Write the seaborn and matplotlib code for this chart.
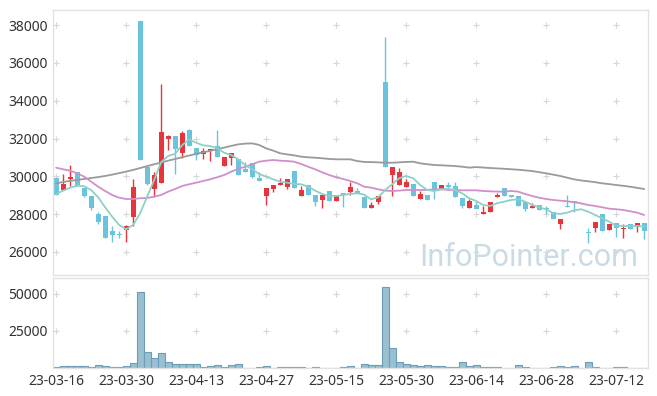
import numpy as np
import pandas as pd
import matplotlib
matplotlib.use('Agg')
import matplotlib.pyplot as plt
import seaborn as sns

# daily OHLC (KRW)
open_p = [29900, 29280, 29860, 30210, 29400, 28950, 27990, 27890, 27090, 26930,
          27160, 27850, 38200, 30510, 29340, 29660, 31960, 32130, 31250, 32450,
          31500, 31160, 31320, 31590, 30560, 30990, 30900, 30370, 30690, 29930,
          28980, 29350, 29560, 29450, 30280, 28980, 29540, 29010, 28770, 29225,
          28700, 29120, 29190, 29225, 28910, 28340, 28640, 34990, 30090, 29560,
          29450, 29580, 28780, 29010, 29700, 29350, 29526, 29490, 28855, 28310,
          28485, 28010, 28100, 28890, 29368, 29014, 28945, 28643, 28310, 28485,
          28310, 28099, 27464, 28420, 28696, 28600, 27000, 27285, 27993, 27147,
          27517, 27200, 27464, 27306, 27517]
high_p = [29950, 30100, 30580, 30250, 29400, 28950, 28100, 27890, 27360, 27110,
          27400, 29840, 38200, 30510, 30250, 34880, 32170, 32130, 32380, 32500,
          31500, 31480, 31430, 32450, 31020, 31230, 30900, 30740, 30690, 30250,
          29370, 29530, 29910, 29840, 30280, 29490, 29540, 29010, 29010, 29225,
          29000, 29120, 29720, 29400, 28910, 28620, 28960, 37350, 30480, 30440,
          29840, 29580, 29240, 29010, 29700, 29540, 29690, 29685, 28855, 28780,
          28700, 28416, 28643, 29120, 29368, 29014, 28945, 28643, 28575, 28485,
          28448, 28099, 27760, 29000, 28696, 28600, 27250, 27586, 27993, 27480,
          27517, 27480, 27464, 27517, 27517]
low_p = [29000, 29280, 29500, 29500, 28900, 28200, 27460, 26720, 26530, 26760,
         26530, 27370, 30880, 29550, 28890, 29660, 31390, 30120, 30950, 31620,
         30850, 30900, 30800, 31040, 30560, 30600, 30090, 30230, 29900, 29770,
         28500, 29160, 29560, 29350, 29400, 28980, 29030, 28450, 28340, 28700,
         28700, 28360, 29010, 29100, 28340, 28340, 28550, 30470, 28980, 29560,
         29450, 28980, 28780, 28770, 28780, 29350, 29350, 28925, 28310, 28310,
         28257, 28010, 28100, 28890, 28960, 28908, 28448, 28170, 28310, 28205,
         28010, 27728, 27232, 28395, 28115, 28540, 26460, 27075, 27126, 27147,
         26777, 26740, 27200, 27075, 26687]
close_p = [29000, 29600, 29965, 29500, 28980, 28340, 27600, 26720, 26915, 26900,
           27375, 29440, 30880, 29610, 30070, 32340, 32150, 31460, 32290, 31620,
           31150, 31340, 31430, 31040, 31020, 31230, 30090, 30230, 29950, 29770,
           29370, 29530, 29665, 29840, 29400, 29280, 29030, 28640, 29010, 28700,
           29000, 29030, 29440, 29100, 28340, 28500, 28960, 30470, 30480, 30230,
           29700, 28980, 29070, 28770, 29330, 29540, 29450, 28925, 28450, 28696,
           28257, 28130, 28643, 29014, 28960, 28908, 28448, 28290, 28448, 28205,
           28257, 27728, 27760, 28400, 28575, 28560, 26990, 27586, 27126, 27480,
           27253, 27285, 27200, 27517, 27126]
volume = [1000, 1300, 1300, 1300, 1300, 700, 2000, 1300, 700, 700,
          1300, 3300, 51500, 10700, 6700, 10000, 4000, 2700, 2700, 2700,
          2700, 700, 1300, 2000, 700, 2000, 2700, 200, 200, 700,
          1300, 200, 700, 700, 700, 700, 200, 700, 200, 200,
          200, 700, 1300, 200, 2700, 2000, 2000, 54400, 13400, 4000,
          2700, 2000, 1300, 2000, 1300, 1300, 700, 700, 4000, 1300,
          2000, 700, 700, 700, 200, 200, 2000, 700, 200, 200,
          200, 700, 1300, 700, 1300, 200, 4000, 700, 200, 200,
          700, 700, 200, 200, 200]

# moving averages as drawn (5 / 20 / 60 day)
ma5 = [29067, 29243, 29400, 29505, 29473, 29278, 28890, 28360, 27866, 27427,
       27200, 27427, 28046, 28925, 29807, 30750, 31080, 31200, 31650, 31950,
       31780, 31640, 31604, 31482, 31250, 31128, 30900, 30600, 30372, 30124,
       29985, 29843, 29720, 29665, 29595, 29580, 29452, 29243, 29067, 28960,
       28960, 29014, 29067, 29103, 29030, 28784, 28890, 29278, 29580, 29897,
       30018, 29897, 29542, 29278, 29225, 29315, 29330, 29278, 29103, 28840,
       28696, 28485, 28432, 28575, 28660, 28750, 28784, 28660, 28485, 28360,
       28257, 28046, 28010, 28080, 28200, 28257, 28130, 27956, 27780, 27602,
       27375, 27375, 27375, 27375, 27340]
ma20 = [30457, 30372, 30300, 30160, 29985, 29720, 29452, 29225, 29014, 28870,
        28800, 28800, 28840, 28855, 28925, 29014, 29190, 29330, 29490, 29580,
        29665, 29754, 29843, 29950, 30070, 30246, 30390, 30510, 30637, 30775,
        30827, 30865, 30827, 30811, 30775, 30652, 30510, 30372, 30214, 30070,
        29950, 29860, 29754, 29632, 29452, 29400, 29315, 29243, 29225, 29243,
        29278, 29278, 29278, 29278, 29315, 29315, 29278, 29278, 29260, 29260,
        29260, 29225, 29208, 29190, 29190, 29225, 29190, 29067, 28960, 28870,
        28800, 28750, 28713, 28680, 28627, 28575, 28485, 28432, 28360, 28290,
        28257, 28220, 28150, 28080, 27956]
ma60 = [29630, 29700, 29760, 29810, 29860, 29910, 29960, 30020, 30090, 30170,
        30250, 30340, 30440, 30540, 30640, 30730, 30830, 30920, 31010, 31100,
        31190, 31270, 31350, 31430, 31520, 31610, 31690, 31730, 31745, 31660,
        31480, 31360, 31220, 31160, 31110, 31040, 31005, 30985, 30955, 30920,
        30900, 30900, 30900, 30810, 30760, 30755, 30740, 30720, 30720, 30740,
        30760, 30775, 30690, 30640, 30600, 30585, 30565, 30545, 30510, 30460,
        30490, 30465, 30440, 30420, 30400, 30375, 30350, 30315, 30280, 30220,
        30160, 30090, 30020, 29930, 29840, 29780, 29740, 29690, 29630, 29590,
        29540, 29500, 29450, 29390, 29330]

holidays = ['2023-05-01', '2023-05-05', '2023-05-29', '2023-06-06']
dates = pd.bdate_range('2023-03-16', periods=len(close_p), freq='C', holidays=holidays)
price_ticks = [26000, 28000, 30000, 32000, 34000, 36000, 38000]
vol_ticks = [25000, 50000]

RED = '#e8343c'
BLUE = '#6cc3dd'
GRID = '#d6d6d6'
SPINE = '#e2e2e2'

sns.set_theme(style='white')
plt.rcParams['font.family'] = ['Noto Sans', 'DejaVu Sans']

fig = plt.figure(figsize=(6.57, 3.96), dpi=100)
ax = fig.add_axes([53 / 657, 1 - 275 / 396, 595 / 657, 265 / 396])
axv = fig.add_axes([53 / 657, 1 - 368 / 396, 595 / 657, 90 / 396], sharex=ax)

x = np.arange(len(close_p))
o = np.array(open_p)
c = np.array(close_p)
up = c > o
cols = np.where(up, RED, BLUE)
body_lo = np.minimum(o, c)
body_h = np.maximum(np.abs(c - o), 45)

# grid drawn as small crosses at tick intersections
xt = np.arange(0, len(x), 10)
gx, gy = np.meshgrid(xt, price_ticks)
ax.plot(gx.ravel(), gy.ravel(), ls='none', marker='+', ms=5, mew=0.8, color=GRID, zorder=0)
gx, gy = np.meshgrid(xt, vol_ticks)
axv.plot(gx.ravel(), gy.ravel(), ls='none', marker='+', ms=5, mew=0.8, color=GRID, zorder=0)

ax.text(0.80, 0.035, 'InfoPointer.com', transform=ax.transAxes, fontsize=22,
        family=['Roboto', 'DejaVu Sans'], color='#c9dbe5',
        ha='center', va='baseline', zorder=0.5)

ax.vlines(x, low_p, high_p, colors=cols, lw=1, zorder=2)
ax.bar(x, body_h, bottom=body_lo, width=0.72, color=cols, linewidth=0, zorder=2)

sns.lineplot(x=x, y=ma60, ax=ax, color='#9a9a9a', lw=1.3, zorder=3)
sns.lineplot(x=x, y=ma20, ax=ax, color='#d18fc9', lw=1.3, zorder=3)
sns.lineplot(x=x, y=ma5, ax=ax, color='#8fd0c6', lw=1.3, zorder=3)

sns.barplot(x=x, y=volume, ax=axv, native_scale=True, width=1, color='#99c0d1',
            edgecolor='#6d9db6', linewidth=0.8, saturation=1, errorbar=None, zorder=2)

ax.set_xlim(-0.45, 84.55)
ax.set_ylim(24780, 38800)
axv.set_ylim(0, 60700)

ax.set_yticks(price_ticks)
ax.set_yticklabels([str(t) for t in price_ticks])
axv.set_yticks(vol_ticks)
axv.set_yticklabels([str(t) for t in vol_ticks])
axv.set_xticks(xt)
axv.set_xticklabels([dates[i].strftime('%y-%m-%d') for i in xt])

for a in (ax, axv):
    a.set_xlabel('')
    a.set_ylabel('')
    a.tick_params(length=0, labelsize=10, labelcolor='#333333', pad=4)
    for s in a.spines.values():
        s.set_color(SPINE)
        s.set_linewidth(1)
ax.tick_params(labelbottom=False)

fig.savefig('out.png', dpi=100, facecolor='white')
